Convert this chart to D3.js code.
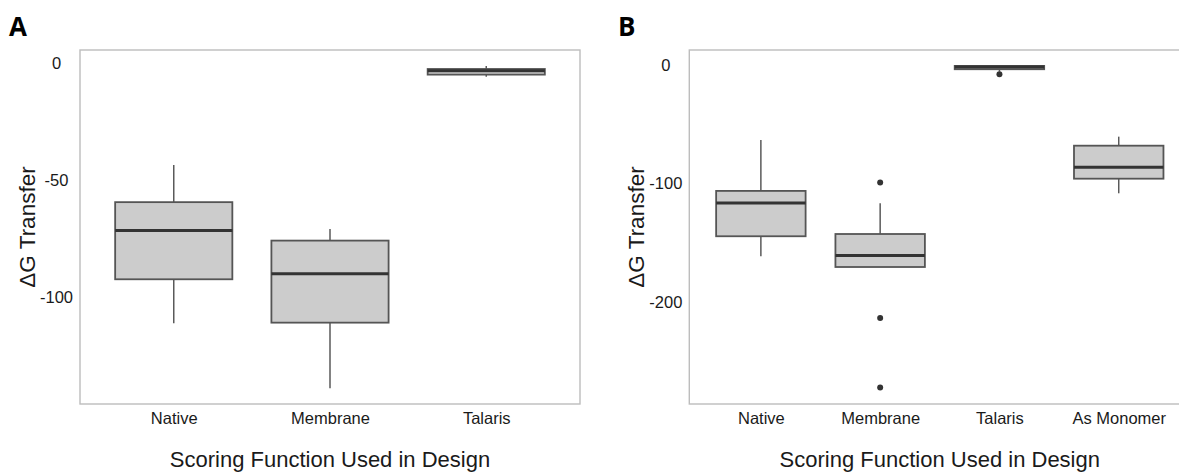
<!DOCTYPE html>
<html>
<head>
<meta charset="utf-8">
<script src="https://cdn.jsdelivr.net/npm/d3@7"></script>
<style>
  body { margin: 0; background: #fff; }
  svg { display: block; font-family: "Liberation Sans", Arial, sans-serif; }
</style>
</head>
<body>
<div id="chart"></div>
<script>
// Panel A: box stats per category as [lowWhisker, q1, median, q3, highWhisker]
const categoriesA = ['Native', 'Membrane', 'Talaris'];
const statsA = [
  [-111.2, -92.4, -71.6, -59.5, -43.7],
  [-138.9, -110.9, -90.0, -75.9, -70.9],
  [-6.0, -5.1, -3.4, -2.7, -1.4]
];
const outliersA = [[], [], []];
const yTicksA = [0, -50, -100];
const yDomainA = [-145.6, 5.4];

// Panel B
const categoriesB = ['Native', 'Membrane', 'Talaris', 'As Monomer'];
const statsB = [
  [-161.7, -144.9, -116.8, -106.7, -63.8],
  [-170.8, -170.8, -161.2, -143.0, -117.1],
  [-6.2, -4.2, -2.3, -1.4, -1.4],
  [-108.7, -96.4, -86.8, -68.6, -61.0]
];
const outliersB = [[], [-99.7, -213.7, -272.4], [-8.4], []];
const yTicksB = [0, -100, -200];
const yDomainB = [-286.2, 12.0];

const xTitle = 'Scoring Function Used in Design';
const yTitle = 'ΔG Transfer';

const W = 1179, H = 472;
const svg = d3.select('#chart').append('svg')
  .attr('width', W)
  .attr('height', H);

function drawPanel(opts) {
  const { left, top, width, height, cats, stats, outliers, ticks, domain, label } = opts;

  const x = d3.scalePoint().domain(cats).range([left, left + width]).padding(0.6);
  const y = d3.scaleLinear().domain(domain).range([top + height, top]);
  const boxW = x.step() * 0.75;

  const g = svg.append('g');

  // frame
  g.append('rect')
    .attr('x', left)
    .attr('y', top)
    .attr('width', width)
    .attr('height', height)
    .attr('fill', 'none')
    .attr('stroke', '#bdbdbd')
    .attr('stroke-width', 1.4);

  // y axis (plain hyphen minus like the original)
  const yAxis = g.append('g')
    .attr('transform', `translate(${left},0)`)
    .call(d3.axisLeft(y).tickValues(ticks).tickSize(0).tickFormat(d => String(d)));
  yAxis.select('.domain').remove();
  yAxis.selectAll('text')
    .attr('x', -23.5)
    .attr('dy', '0.35em')
    .attr('text-anchor', 'middle')
    .attr('fill', '#1a1a1a')
    .style('font-size', '16.5px')
    .style('font-family', '"Liberation Sans", Arial, sans-serif');

  // x axis
  const xAxis = g.append('g')
    .attr('transform', `translate(0,${top + height})`)
    .call(d3.axisBottom(x).tickSize(0));
  xAxis.select('.domain').remove();
  xAxis.selectAll('text')
    .attr('y', 20)
    .attr('dy', 0)
    .attr('fill', '#1a1a1a')
    .style('font-size', '16.5px')
    .style('font-family', '"Liberation Sans", Arial, sans-serif');

  // boxes
  const boxes = g.selectAll('.box')
    .data(cats.map((c, i) => ({ cat: c, s: stats[i], out: outliers[i] })))
    .enter()
    .append('g')
    .attr('class', 'box');

  boxes.append('line')
    .attr('x1', d => x(d.cat))
    .attr('x2', d => x(d.cat))
    .attr('y1', d => y(d.s[4]))
    .attr('y2', d => y(d.s[3]))
    .attr('stroke', '#5a5a5a')
    .attr('stroke-width', 1.5);

  boxes.append('line')
    .attr('x1', d => x(d.cat))
    .attr('x2', d => x(d.cat))
    .attr('y1', d => y(d.s[1]))
    .attr('y2', d => y(d.s[0]))
    .attr('stroke', '#5a5a5a')
    .attr('stroke-width', 1.5);

  boxes.append('rect')
    .attr('x', d => x(d.cat) - boxW / 2)
    .attr('y', d => y(d.s[3]))
    .attr('width', boxW)
    .attr('height', d => y(d.s[1]) - y(d.s[3]))
    .attr('fill', '#cccccc')
    .attr('stroke', '#555')
    .attr('stroke-width', 1.8);

  boxes.append('line')
    .attr('x1', d => x(d.cat) - boxW / 2)
    .attr('x2', d => x(d.cat) + boxW / 2)
    .attr('y1', d => y(d.s[2]))
    .attr('y2', d => y(d.s[2]))
    .attr('stroke', '#333')
    .attr('stroke-width', 3);

  boxes.selectAll('.outlier')
    .data(d => d.out.map(v => ({ cat: d.cat, v })))
    .enter()
    .append('circle')
    .attr('class', 'outlier')
    .attr('cx', d => x(d.cat))
    .attr('cy', d => y(d.v))
    .attr('r', 3)
    .attr('fill', '#333');

  // axis titles
  g.append('text')
    .attr('transform', `translate(${left - 53},${top + height / 2}) rotate(-90)`)
    .attr('dy', '0.35em')
    .attr('text-anchor', 'middle')
    .attr('fill', '#1a1a1a')
    .style('font-size', '22.5px')
    .text(yTitle);

  g.append('text')
    .attr('x', left + width / 2)
    .attr('y', 466.5)
    .attr('text-anchor', 'middle')
    .attr('fill', '#1a1a1a')
    .style('font-size', '22px')
    .text(xTitle);

  // panel label
  g.append('text')
    .attr('x', label.x)
    .attr('y', 36)
    .attr('fill', '#000')
    .style('font-family', '"Open Sans", "Liberation Sans", sans-serif')
    .style('font-weight', 700)
    .style('font-size', '26px')
    .text(label.text);
}

drawPanel({
  left: 80, top: 50, width: 500, height: 354,
  cats: categoriesA, stats: statsA, outliers: outliersA,
  ticks: yTicksA, domain: yDomainA,
  label: { text: 'A', x: 9 }
});

drawPanel({
  left: 689.3, top: 50, width: 501, height: 354,
  cats: categoriesB, stats: statsB, outliers: outliersB,
  ticks: yTicksB, domain: yDomainB,
  label: { text: 'B', x: 618 }
});
</script>
</body>
</html>
